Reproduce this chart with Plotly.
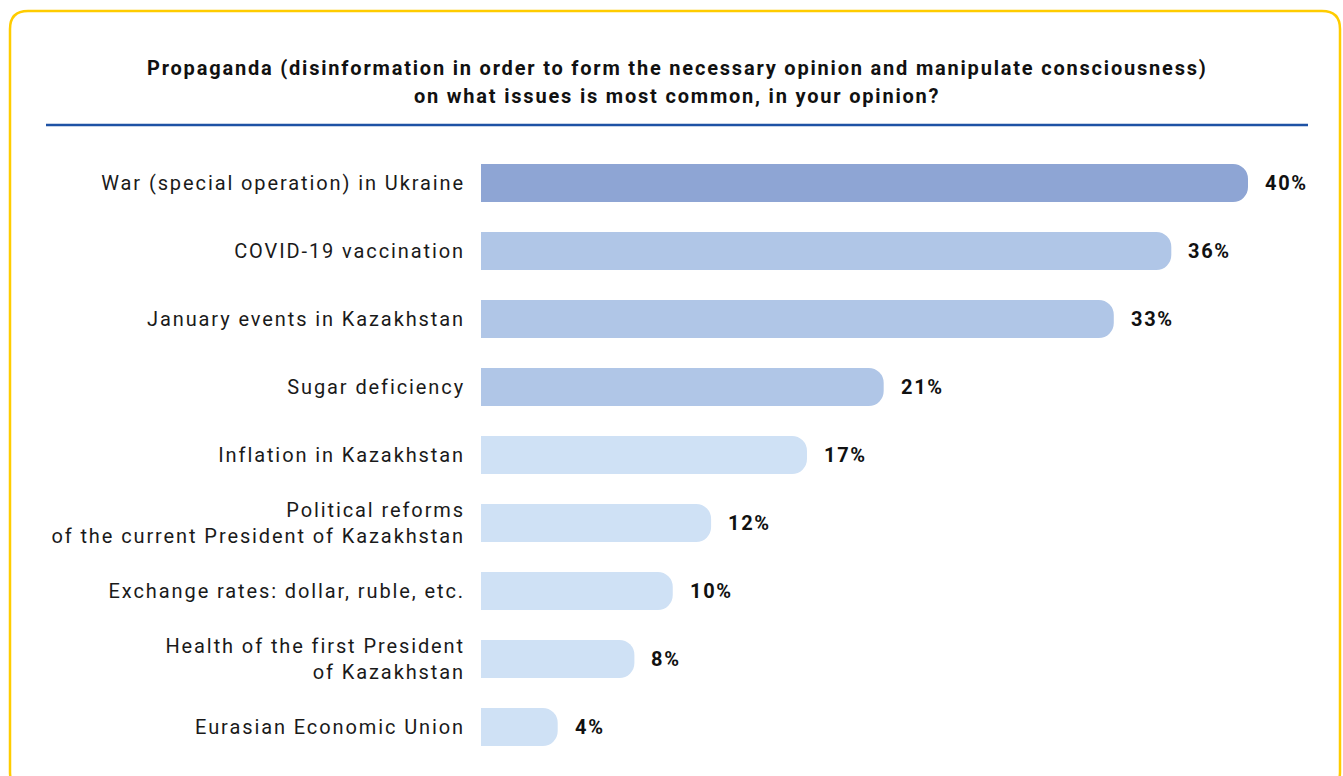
import plotly.graph_objects as go

# Survey answers, top to bottom
categories = [
    "War (special operation) in Ukraine",
    "COVID-19 vaccination",
    "January events in Kazakhstan",
    "Sugar deficiency",
    "Inflation in Kazakhstan",
    "Political reforms<br>of the current President of Kazakhstan",
    "Exchange rates: dollar, ruble, etc.",
    "Health of the first President<br>of Kazakhstan",
    "Eurasian Economic Union",
]
shares = [40, 36, 33, 21, 17, 12, 10, 8, 4]
value_labels = ["40%", "36%", "33%", "21%", "17%", "12%", "10%", "8%", "4%"]
bar_colors = ["#8EA5D4"] + ["#B0C6E7"] * 3 + ["#CFE1F5"] * 5

title_lines = [
    "Propaganda (disinformation in order to form the necessary opinion and manipulate consciousness)",
    "on what issues is most common, in your opinion?",
]

W, H = 1343, 776
L, R, T, B = 481, 1248, 149, 761  # plot area in pixels


def px(x):
    return (x - L) / (R - L)


def py(y):
    return (B - y) / (B - T)


def spaced(text, ls):
    """Wrap each line of a label in a letter-spaced span."""
    return "<br>".join(
        f"<span style='letter-spacing:{ls}px'>{part}</span>" for part in text.split("<br>")
    )


fig = go.Figure(
    go.Bar(
        x=shares,
        y=categories,
        orientation="h",
        marker=dict(color=bar_colors, line=dict(width=0), cornerradius=15),
        hoverinfo="skip",
    )
)

# value labels to the right of each bar
for cat, v, lab in zip(categories, shares, value_labels):
    fig.add_annotation(
        x=v, y=cat, xref="x", yref="y", text=f"<b>{spaced(lab, 1.7)}</b>",
        showarrow=False, xanchor="left", xshift=15,
        font=dict(family="Roboto", size=20, color="#111111"),
    )

# two-line bold heading
for i, line in enumerate(title_lines):
    fig.add_annotation(
        x=px(677), y=py(68 + i * 28), xref="paper", yref="paper",
        text=f"<b>{spaced(line, 1.8)}</b>", showarrow=False,
        xanchor="center", yanchor="middle",
        font=dict(family="Roboto", size=20, color="#111111"),
    )

# rule under the heading
fig.add_shape(
    type="line", xref="paper", yref="paper",
    x0=px(46), x1=px(1308), y0=py(125), y1=py(125),
    line=dict(color="#1E52A5", width=2.5),
)

# rounded yellow frame around the card
x0, x1, y0, y1, r = 10, 1340, 11, 790, 18
rx, ry = r / (R - L), r / (B - T)
X0, X1, Y0, Y1 = px(x0), px(x1), py(y0), py(y1)
path = (
    f"M {X0 + rx},{Y0} L {X1 - rx},{Y0} Q {X1},{Y0} {X1},{Y0 - ry} "
    f"L {X1},{Y1 + ry} Q {X1},{Y1} {X1 - rx},{Y1} "
    f"L {X0 + rx},{Y1} Q {X0},{Y1} {X0},{Y1 + ry} "
    f"L {X0},{Y0 - ry} Q {X0},{Y0} {X0 + rx},{Y0} Z"
)
fig.add_shape(type="path", xref="paper", yref="paper", path=path,
              line=dict(color="#FFCC00", width=2.5), layer="below")

fig.update_layout(
    width=W, height=H,
    margin=dict(l=L, r=W - R, t=T, b=H - B, pad=0),
    paper_bgcolor="white", plot_bgcolor="white",
    bargap=0.44,
    showlegend=False,
    font=dict(family="Roboto", size=20, color="#1a1a1a"),
    xaxis=dict(range=[0, 40], visible=False, fixedrange=True),
    yaxis=dict(
        autorange="reversed", showgrid=False, zeroline=False, showline=False,
        ticks="", ticklabelstandoff=15, fixedrange=True,
        tickmode="array", tickvals=categories,
        ticktext=[spaced(c, 1.9) for c in categories],
        tickfont=dict(family="Roboto", size=20, color="#1a1a1a"),
    ),
)

fig.write_html("out.html", config={"displayModeBar": False})
